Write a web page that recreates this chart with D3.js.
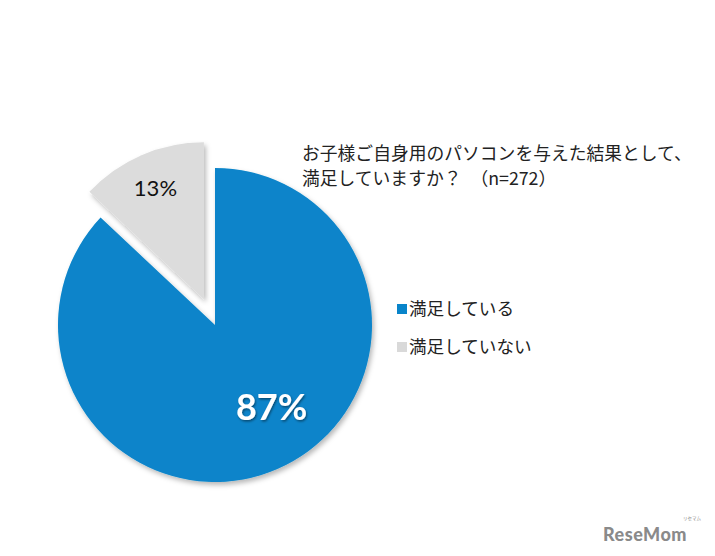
<!DOCTYPE html>
<html><head><meta charset="utf-8">
<script src="https://cdn.jsdelivr.net/npm/d3@7"></script>
<style>body{margin:0;background:#fff;}</style>
</head><body>
<svg id="c" width="715" height="556"></svg>
<script>
const categories = ["満足している", "満足していない"];
const values = [87, 13];
const labels = ["87%", "13%"];
const colors = ["#0884ca", "#dcdcdc"];
const legendColors = ["#0884ca", "#d9d9d9"];
const titleLines = ["お子様ご自身用のパソコンを与えた結果として、", "満足していますか？　（n=272）"];

const svg = d3.select("#c");
const defs = svg.append("defs");
const f = defs.append("filter").attr("id","sh").attr("x","-20%").attr("y","-20%").attr("width","140%").attr("height","140%");
f.append("feDropShadow").attr("dx",2).attr("dy",3).attr("stdDeviation",2.5).attr("flood-color","#000").attr("flood-opacity",0.28);
const f2 = defs.append("filter").attr("id","tsh");
f2.append("feDropShadow").attr("dx",1).attr("dy",1.5).attr("stdDeviation",1).attr("flood-color","#000").attr("flood-opacity",0.45);

const cx = 215, cy = 325, R = 157, explode = 28;
const pie = d3.pie().sort(null).value(d => d)(values);
const arc = d3.arc().innerRadius(0).outerRadius(R);
const g = svg.append("g").attr("transform", `translate(${cx},${cy})`);

pie.forEach((p, i) => {
  const mid = (p.startAngle + p.endAngle) / 2;
  const off = i === 1 ? explode : 0;
  const dx = Math.sin(mid) * off, dy = -Math.cos(mid) * off;
  const sg = g.append("g").attr("transform", `translate(${dx},${dy})`);
  sg.append("path").attr("d", arc(p)).attr("fill", colors[i]).attr("filter", "url(#sh)");
  const lr = i === 0 ? 99 : 122;
  const la = i === 0 ? mid - 0.2 : mid;
  const lx = Math.sin(la) * lr, ly = -Math.cos(la) * lr;
  sg.append("text").attr("x", lx).attr("y", ly)
    .attr("text-anchor","middle").attr("dominant-baseline","central")
    .attr("font-family","Lato, 'Open Sans', sans-serif")
    .attr("font-size", i === 0 ? 36 : 22)
    .attr("font-weight", i === 0 ? "bold" : "normal")
    .attr("fill", i === 0 ? "#fff" : "#111")
    .attr("filter", i === 0 ? "url(#tsh)" : null)
    .text(labels[i]);
});

const jp = "'Noto Sans CJK JP', 'Noto Sans', sans-serif";
svg.append("g").selectAll("text").data(titleLines).join("text")
  .attr("x", 302).attr("y", (d,i) => 160 + i*25)
  .attr("font-family", jp).attr("font-size", 17.8).attr("fill","#222")
  .text(d => d);

const lg = svg.append("g").selectAll("g").data(categories).join("g")
  .attr("transform", (d,i) => `translate(397,${304 + i*38})`);
lg.append("rect").attr("width",10).attr("height",10).attr("fill",(d,i)=>legendColors[i]);
lg.append("text").attr("x",12).attr("y",11).attr("font-family",jp).attr("font-size",17.6).attr("fill","#222").text(d=>d);

// watermark
svg.append("text").attr("x",603).attr("y",541).attr("font-family","Lato, sans-serif").attr("font-weight","900")
  .attr("font-size",18).attr("letter-spacing",0.5).attr("fill","#8a8a8a").text("ReseMom");
svg.append("text").attr("x",683).attr("y",520).attr("font-family",jp).attr("font-size",4.5).attr("fill","#8a8a8a").text("リセマム");
</script>
</body></html>
